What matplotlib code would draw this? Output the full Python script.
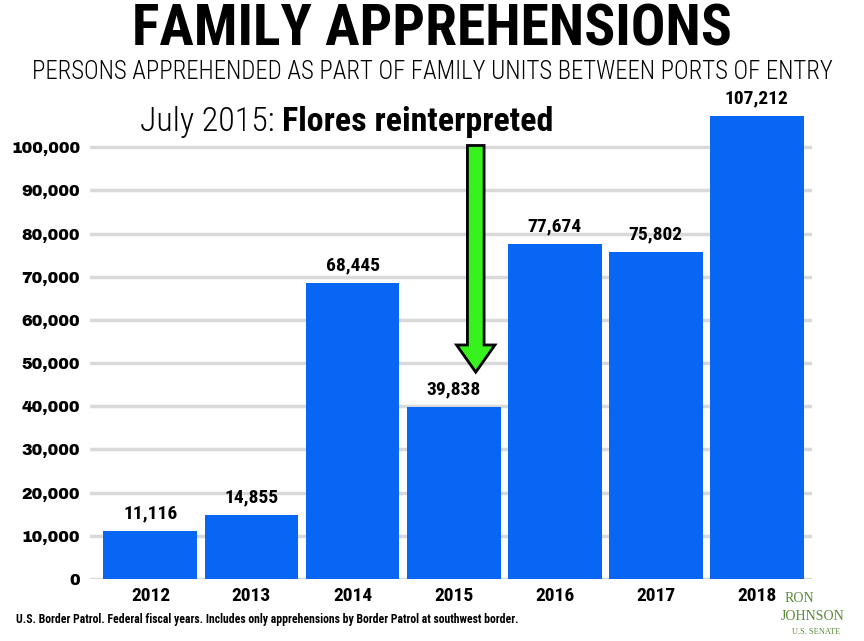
import matplotlib
matplotlib.use("Agg")
import matplotlib.pyplot as plt
from matplotlib.patches import FancyArrow

years = ["2012", "2013", "2014", "2015", "2016", "2017", "2018"]
families = [11116, 14855, 68445, 39838, 77674, 75802, 107212]
yticks = [0, 10000, 20000, 30000, 40000, 50000, 60000, 70000, 80000, 90000, 100000]

narrow = ["Roboto Condensed", "Archivo Narrow", "DejaVu Sans"]
black = ["Archivo Black", "DejaVu Sans"]

fig = plt.figure(figsize=(8.64, 6.41), dpi=100)
ax = fig.add_axes([0.104, 0.0967, 0.836, 0.741])

x = range(len(years))
ax.bar(x, families, width=0.93, color="#0866f5", zorder=3)
for i, v in enumerate(families):
    ax.text(i, v + 2000, f"{v:,}", ha="center", va="bottom",
            fontsize=14, fontweight="bold", family=narrow)

ax.set_xlim(-0.6, 6.55)
ax.set_ylim(0, 110000)
ax.set_yticks(yticks)
ax.set_yticklabels([f"{t:,}" for t in yticks], fontsize=11.5, family=black)
ax.set_xticks(list(x))
ax.set_xticklabels(years, fontsize=14, fontweight="bold", family=narrow)
ax.tick_params(axis="y", length=0, pad=7)
ax.tick_params(axis="x", length=0, pad=6)
ax.yaxis.grid(True, color="#d9d9d9", linewidth=2.5, zorder=0)
for s in ax.spines.values():
    s.set_visible(False)

# arrow marking the Flores reinterpretation
ax.add_patch(FancyArrow(3.22, 100400, 0, -52500, width=0.165,
                        head_width=0.38, head_length=6300,
                        length_includes_head=True, facecolor="#38f21e",
                        edgecolor="black", linewidth=2, zorder=5))

fig.text(0.5, 0.953, "FAMILY APPREHENSIONS", ha="center", va="center",
         fontsize=41.5, fontweight=900, family=narrow)
fig.text(0.5, 0.888, "PERSONS APPREHENDED AS PART OF FAMILY UNITS BETWEEN PORTS OF ENTRY",
         ha="center", va="center", fontsize=17.8, fontweight="light", family=narrow)
t1 = fig.text(0.162, 0.81, "July 2015: ", ha="left", va="center",
              fontsize=24.5, fontweight="light", family=narrow)
fig.canvas.draw()
bb = t1.get_window_extent()
fig.text(bb.x1 / fig.bbox.width, 0.81, "Flores reinterpreted", ha="left",
         va="center", fontsize=24.5, fontweight="bold", family=narrow)

fig.text(0.018, 0.034, "U.S. Border Patrol. Federal fiscal years. Includes only "
         "apprehensions by Border Patrol at southwest border.",
         ha="left", va="center", fontsize=8.5, fontweight="bold", family=narrow)

serif = ["Liberation Serif", "DejaVu Serif"]
fig.text(0.925, 0.066, "RON", ha="center", va="center", fontsize=10,
         color="#5a8a3a", family=serif)
fig.text(0.94, 0.039, "JOHNSON", ha="center", va="center", fontsize=10,
         color="#5a8a3a", family=serif)
fig.text(0.945, 0.014, "U.S. SENATE", ha="center", va="center", fontsize=6,
         color="#5a8a3a", family=serif)

fig.savefig("out.png", dpi=100)
